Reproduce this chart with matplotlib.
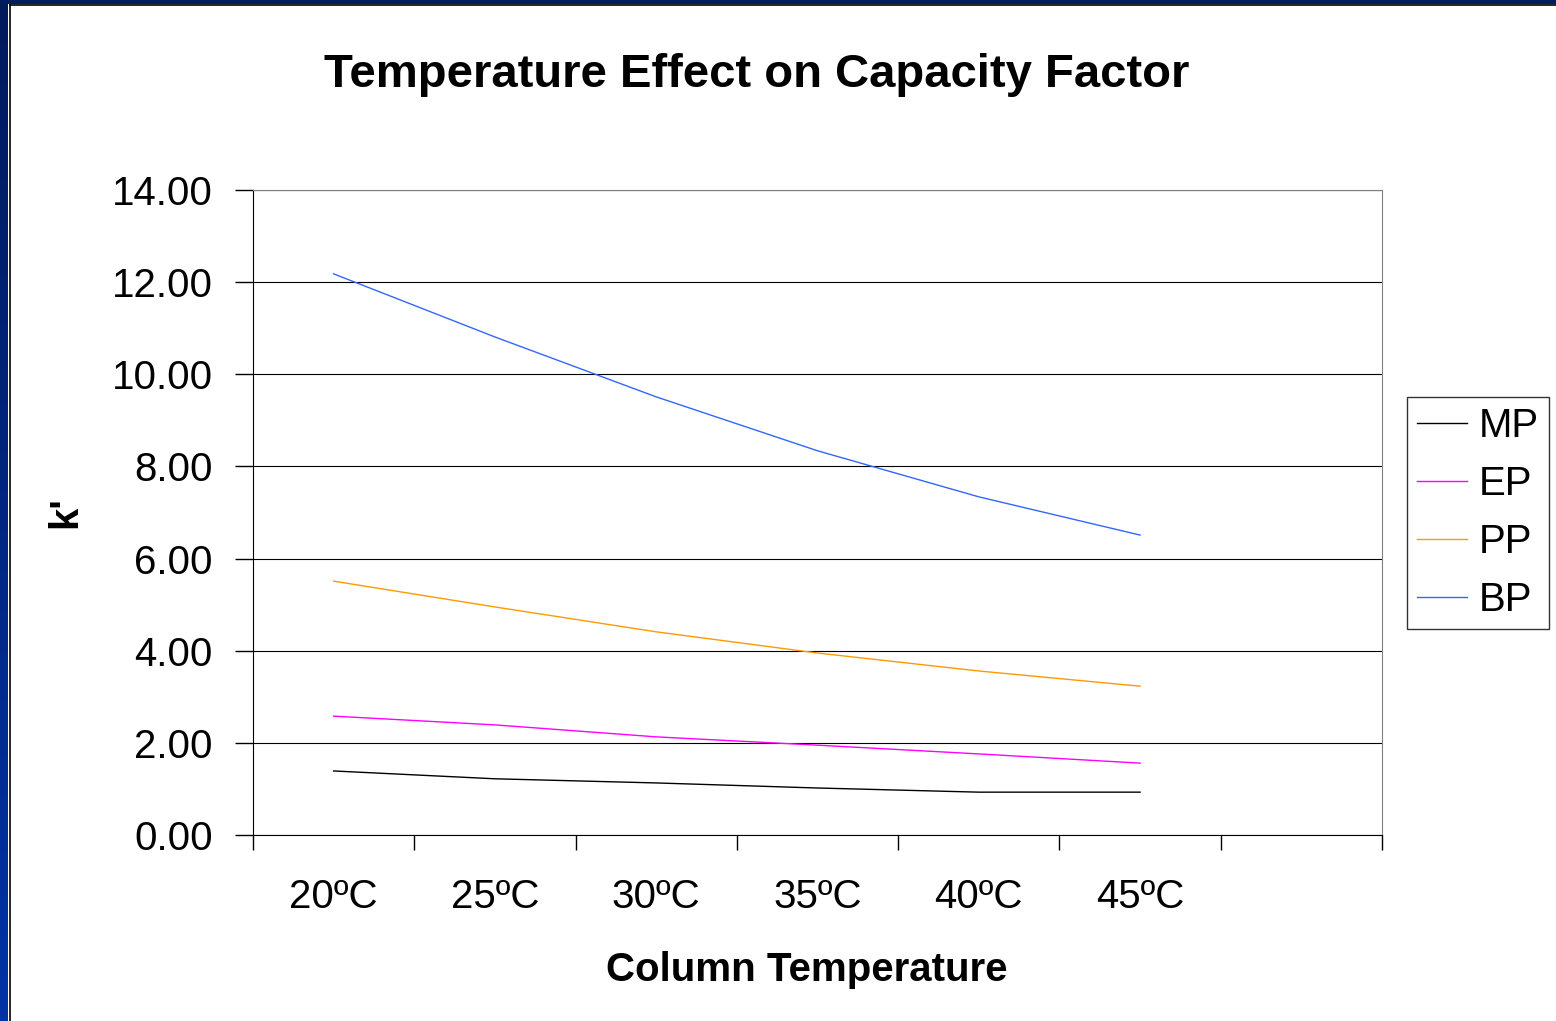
import matplotlib.pyplot as plt
import numpy as np
from matplotlib.colors import LinearSegmentedColormap
from matplotlib.lines import Line2D

plt.rcParams['font.family'] = ['Liberation Sans', 'DejaVu Sans']

temps = ['20ºC', '25ºC', '30ºC', '35ºC', '40ºC', '45ºC']
mp = [1.39, 1.22, 1.13, 1.02, 0.93, 0.93]
ep = [2.58, 2.39, 2.13, 1.95, 1.76, 1.56]
pp = [5.51, 4.95, 4.41, 3.95, 3.56, 3.23]
bp = [12.18, 10.81, 9.51, 8.34, 7.34, 6.51]

SERIES = [('MP', mp, '#000000'), ('EP', ep, '#FF00FF'),
          ('PP', pp, '#FF9900'), ('BP', bp, '#3366FF')]

W, H = 1556, 1021
fig = plt.figure(figsize=(W / 100, H / 100), dpi=100)
fig.patch.set_facecolor('white')

# navy slide frame on the left and top
grad = np.linspace(0, 1, 256).reshape(-1, 1)
left_ax = fig.add_axes([0, 0, 8 / W, 1])
left_ax.imshow(grad, aspect='auto', extent=[0, 1, 0, 1],
               cmap=LinearSegmentedColormap.from_list('navy', ['#001a5c', '#0033a6']))
left_ax.axis('off')
top_ax = fig.add_axes([0, 1 - 4 / H, 1, 4 / H])
top_ax.set_facecolor('#001d60')
top_ax.set_xticks([]); top_ax.set_yticks([])
for s in top_ax.spines.values():
    s.set_visible(False)
fig.add_artist(Line2D([9.5 / W, 9.5 / W], [0, 1 - 5.5 / H], color='black', lw=1.2,
                      transform=fig.transFigure))
fig.add_artist(Line2D([9.5 / W, 1], [1 - 5.5 / H, 1 - 5.5 / H], color='black', lw=1.2,
                      transform=fig.transFigure))

ax = fig.add_axes([253 / W, 1 - 835 / H, (1382 - 253) / W, (835 - 190) / H])
x = np.arange(len(temps))
for name, vals, c in SERIES:
    ax.plot(x, vals, color=c, lw=1.0, label=name, zorder=3)

ax.set_xlim(-0.5, 6.5)
ax.set_ylim(0, 14)
ax.set_yticks(np.arange(0, 15, 2))
ax.set_yticklabels([f'{v:.2f}' for v in np.arange(0, 15, 2)], fontsize=29)
ax.set_xticks(np.arange(-0.5, 7, 1))
ax.set_xticklabels([])
ax.set_xticks(x, minor=True)
ax.set_xticklabels(temps, minor=True, fontsize=29)
ax.tick_params(axis='x', which='minor', length=0, pad=31)
ax.tick_params(axis='x', which='major', length=11, width=1, color='black')
ax.tick_params(axis='y', length=13, width=1, pad=16)
ax.grid(axis='y', color='black', lw=0.8)
ax.spines['top'].set_color('#808080')
ax.spines['right'].set_color('#808080')
ax.spines['left'].set_color('black')
ax.spines['bottom'].set_color('black')

ax.set_xlabel('Column Temperature', fontsize=29, fontweight='bold', labelpad=25)
ax.xaxis.label.set_x((807 - 253) / (1382 - 253))
ax.set_ylabel("k'", fontsize=29, fontweight='bold', labelpad=20)
fig.text(757 / W, 1 - 75 / H, 'Temperature Effect on Capacity Factor',
         fontsize=34, fontweight='bold', ha='center', va='center')

leg = ax.legend(loc='center', bbox_to_anchor=(1478 / W, 1 - 513 / H),
                bbox_transform=fig.transFigure, fontsize=29, frameon=True,
                fancybox=False, edgecolor='black', handlelength=1.25,
                handletextpad=0.3, labelspacing=0.5, borderpad=0.25,
                borderaxespad=0)
leg.get_frame().set_linewidth(1.0)

fig.savefig('out.png', dpi=100)
